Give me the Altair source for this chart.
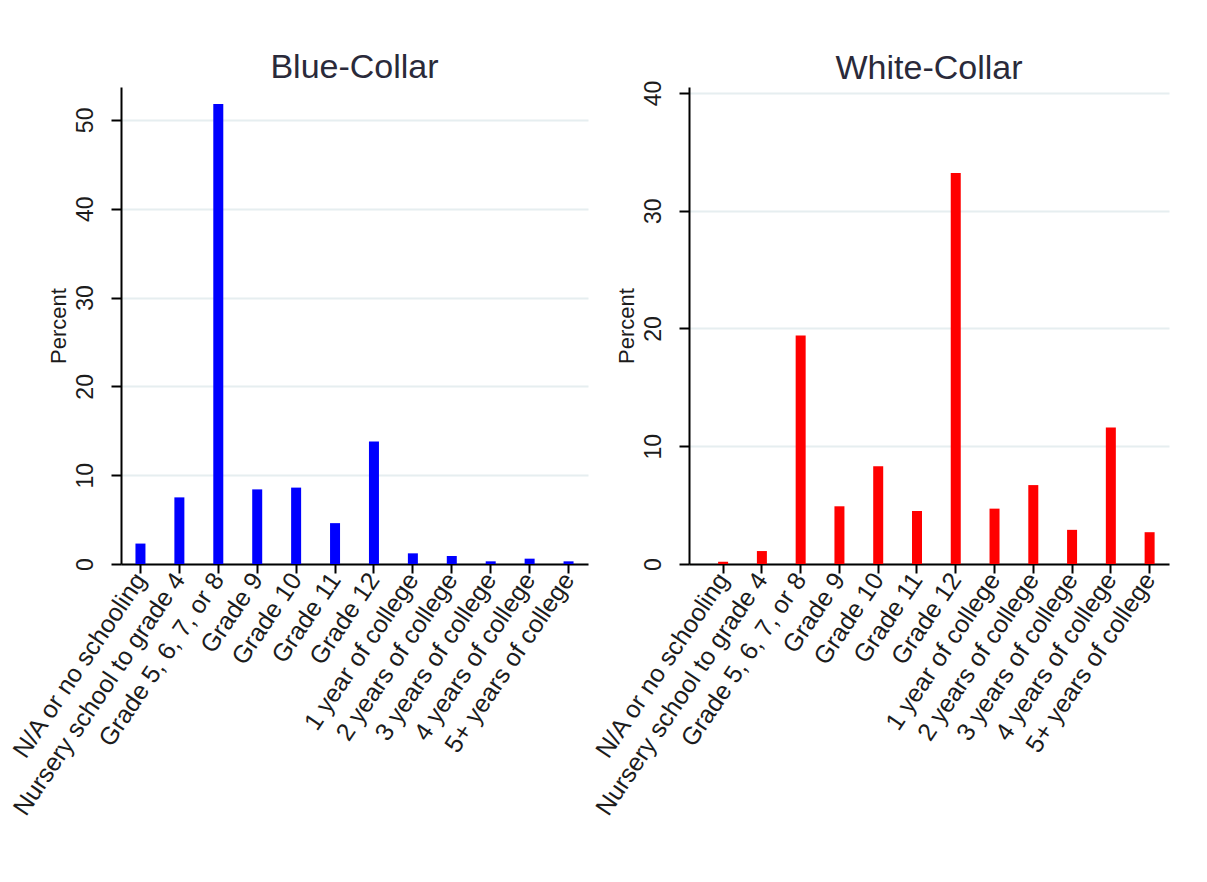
import altair as alt
import pandas as pd

categories = [
    "N/A or no schooling",
    "Nursery school to grade 4",
    "Grade 5, 6, 7, or 8",
    "Grade 9",
    "Grade 10",
    "Grade 11",
    "Grade 12",
    "1 year of college",
    "2 years of college",
    "3 years of college",
    "4 years of college",
    "5+ years of college",
]
blue_collar = [2.3, 7.5, 51.8, 8.4, 8.6, 4.6, 13.8, 1.2, 0.9, 0.3, 0.6, 0.3]
white_collar = [0.2, 1.1, 19.4, 4.9, 8.3, 4.5, 33.2, 4.7, 6.7, 2.9, 11.6, 2.7]

FONT = "Liberation Sans"
TXT = "#1c1c1c"

def panel(values, title, color, ymax, yticks, width, pad_outer, align, toff):
    df = pd.DataFrame({"educ": categories, "pct": values})
    return (
        alt.Chart(df, title=alt.TitleParams(title, fontSize=34, font=FONT,
                                            fontWeight="normal", color="#2a2a3a",
                                            frame="group", offset=toff))
        .mark_bar(color=color, size=10)
        .encode(
            x=alt.X("educ:N", sort=categories, title=None,
                    scale=alt.Scale(paddingInner=0, paddingOuter=pad_outer, align=align),
                    axis=alt.Axis(labelAngle=-56, labelFontSize=25, labelFont=FONT,
                                  labelLimit=400, labelColor=TXT,
                                  domainColor="#000000", domainWidth=2,
                                  tickColor="#000000", tickSize=9, tickWidth=2,
                                  labelPadding=2, grid=False)),
            y=alt.Y("pct:Q", title="Percent",
                    scale=alt.Scale(domain=[0, ymax], nice=False, zero=True),
                    axis=alt.Axis(values=yticks, labelAngle=-90, labelFontSize=23,
                                  labelFont=FONT, labelColor=TXT,
                                  titleFont=FONT, titleFontSize=22,
                                  titleFontWeight="normal", titleColor=TXT,
                                  titlePadding=4, labelPadding=14,
                                  domainColor="#000000", domainWidth=2,
                                  tickColor="#000000", tickSize=10, tickWidth=2,
                                  gridColor="#e6eef0", gridWidth=2)),
        )
        .properties(width=width, height=477)
    )

left = panel(blue_collar, "Blue-Collar", "#0000ff", 53.7, [0, 10, 20, 30, 40, 50], 467, 0, 0.5, 2)
right = panel(white_collar, "White-Collar", "#ff0000", 40.5, [0, 10, 20, 30, 40], 480, 0.19, 1, -6)

chart = (
    alt.hconcat(left, right, spacing=2)
    .properties(padding={"left": 0, "top": 43, "right": 5, "bottom": 5}, background="white")
    .configure_view(stroke=None)
)

chart.save("out.html", embed_options={"renderer": "svg", "actions": False})
